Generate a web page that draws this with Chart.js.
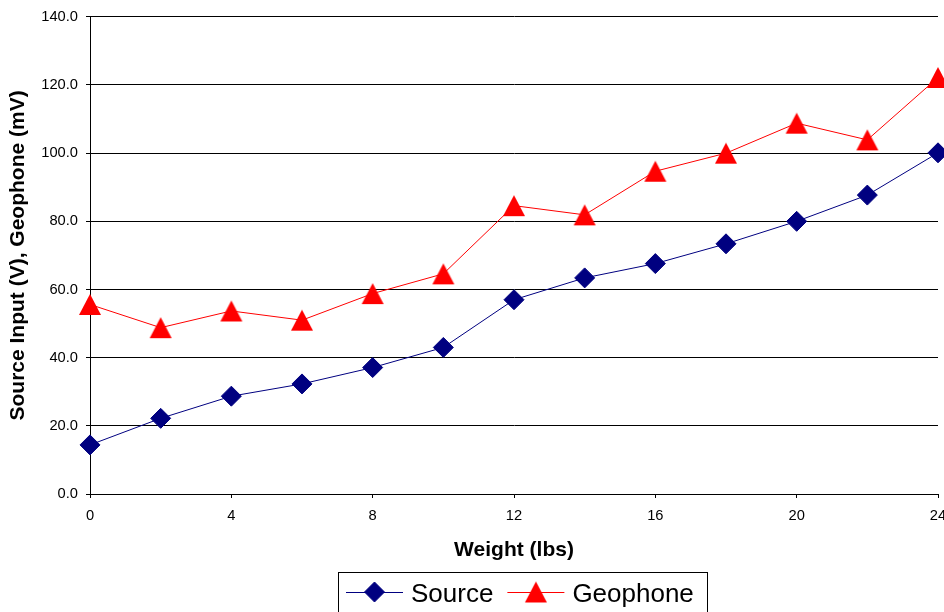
<!DOCTYPE html>
<html lang="en">
<head>
  <meta charset="UTF-8" />
  <title>Source Input and Geophone vs Weight</title>
  <script src="https://cdn.jsdelivr.net/npm/chart.js"></script>
  <style>
    html, body { margin: 0; padding: 0; background: #fff; }
    #wrap { width: 944px; height: 612px; }
  </style>
</head>
<body>
  <div id="wrap"><canvas id="chart" width="944" height="612"></canvas></div>

  <script>
    // Measurements
    const weights = [0, 2, 4, 6, 8, 10, 12, 14, 16, 18, 20, 22, 24];
    const sourceVolts = [14.4, 22.2, 28.7, 32.3, 37.1, 43.0, 57.0, 63.4, 67.6, 73.4, 80.0, 87.7, 100.1];
    const geophoneMv = [55.6, 48.8, 53.7, 51.0, 58.8, 64.6, 84.6, 81.9, 94.7, 100.0, 108.8, 103.9, 122.2];

    // Axis ranges / tick steps
    const xRange = [0, 24];
    const xStep = 4;
    const yRange = [0, 140];
    const yStep = 20;

    const FONT = "'Liberation Sans', Arial, sans-serif";
    Chart.defaults.font.family = FONT;
    Chart.defaults.color = '#000';

    // Filled triangle marker, centred on its bounding box
    function triangleMarker(w, h, color) {
      const c = document.createElement('canvas');
      c.width = w + 2;
      c.height = h + 2;
      const g = c.getContext('2d');
      g.fillStyle = color;
      g.beginPath();
      g.moveTo(1 + w / 2, 1);
      g.lineTo(1 + w, 1 + h);
      g.lineTo(1, 1 + h);
      g.closePath();
      g.fill();
      return c;
    }

    const toPoints = (ys) => weights.map((w, i) => ({ x: w, y: ys[i] }));

    // Boxed legend under the axis title, line - marker - line then label
    const boxedLegend = {
      id: 'boxedLegend',
      afterDraw(chart) {
        const ctx = chart.ctx;
        const left = 338, top = 572, lineLen = 57, midY = 592;
        ctx.save();
        ctx.font = '26px ' + FONT;
        const sets = chart.data.datasets;
        let width = 8;
        sets.forEach((ds, i) => {
          width += lineLen + 8 + ctx.measureText(ds.label).width + (i < sets.length - 1 ? 14 : 13);
        });
        ctx.strokeStyle = '#000';
        ctx.lineWidth = 1;
        ctx.strokeRect(left + 0.5, top + 0.5, Math.round(width), 60);

        let x = left + 8;
        sets.forEach((ds) => {
          ctx.strokeStyle = ds.borderColor;
          ctx.lineWidth = 1;
          ctx.beginPath();
          ctx.moveTo(x, midY + 0.5);
          ctx.lineTo(x + lineLen, midY + 0.5);
          ctx.stroke();
          ctx.fillStyle = ds.pointBackgroundColor;
          ctx.strokeStyle = ds.pointBorderColor;
          Chart.helpers.drawPoint(ctx, {
            pointStyle: ds.pointStyle,
            radius: 10,
            rotation: 0,
            borderWidth: 1
          }, x + lineLen / 2, midY);
          x += lineLen + 8;
          ctx.fillStyle = '#000';
          ctx.textBaseline = 'alphabetic';
          ctx.fillText(ds.label, x, 602);
          x += ctx.measureText(ds.label).width + 14;
        });
        ctx.restore();
      }
    };

    new Chart(document.getElementById('chart'), {
      type: 'line',
      data: {
        datasets: [
          {
            label: 'Source',
            data: toPoints(sourceVolts),
            borderColor: '#000080',
            backgroundColor: '#000080',
            borderWidth: 1,
            pointStyle: 'rectRot',
            pointRadius: 10,
            pointBorderWidth: 1,
            pointBackgroundColor: '#000080',
            pointBorderColor: '#000080',
            tension: 0,
            clip: false
          },
          {
            label: 'Geophone',
            data: toPoints(geophoneMv),
            borderColor: '#ff0000',
            backgroundColor: '#ff0000',
            borderWidth: 1,
            pointStyle: triangleMarker(22, 21, '#ff0000'),
            pointRadius: 11,
            pointBorderWidth: 0,
            pointBackgroundColor: '#ff0000',
            pointBorderColor: '#ff0000',
            tension: 0,
            clip: false
          }
        ]
      },
      options: {
        responsive: false,
        animation: false,
        layout: {
          autoPadding: false,
          padding: { top: 16, right: 6, bottom: 48, left: 0 }
        },
        plugins: {
          legend: { display: false },
          tooltip: { enabled: false }
        },
        scales: {
          x: {
            type: 'linear',
            min: xRange[0],
            max: xRange[1],
            ticks: { stepSize: xStep, font: { size: 14.7 }, color: '#000', padding: 9 },
            grid: { drawOnChartArea: false, tickLength: 4, color: '#000' },
            border: { color: '#000' },
            title: {
              display: true,
              text: 'Weight (lbs)',
              font: { size: 21, weight: 'bold' },
              color: '#000',
              padding: { top: 0, bottom: 1 }
            },
            afterFit(scale) {
              scale.height = 70;
              scale.paddingLeft = 0;
              scale.paddingRight = 0;
            }
          },
          y: {
            min: yRange[0],
            max: yRange[1],
            ticks: {
              stepSize: yStep,
              font: { size: 14.7 },
              color: '#000',
              padding: 8,
              callback: (v) => Number(v).toFixed(1)
            },
            grid: { color: '#000', tickLength: 4, tickColor: '#000' },
            border: { color: '#000' },
            title: {
              display: true,
              text: 'Source Input (V), Geophone (mV)',
              font: { size: 21, weight: 'bold' },
              color: '#000',
              padding: { top: 6, bottom: 0 }
            },
            afterFit(scale) {
              scale.width = 90;
            }
          }
        }
      },
      plugins: [boxedLegend]
    });
  </script>
</body>
</html>
